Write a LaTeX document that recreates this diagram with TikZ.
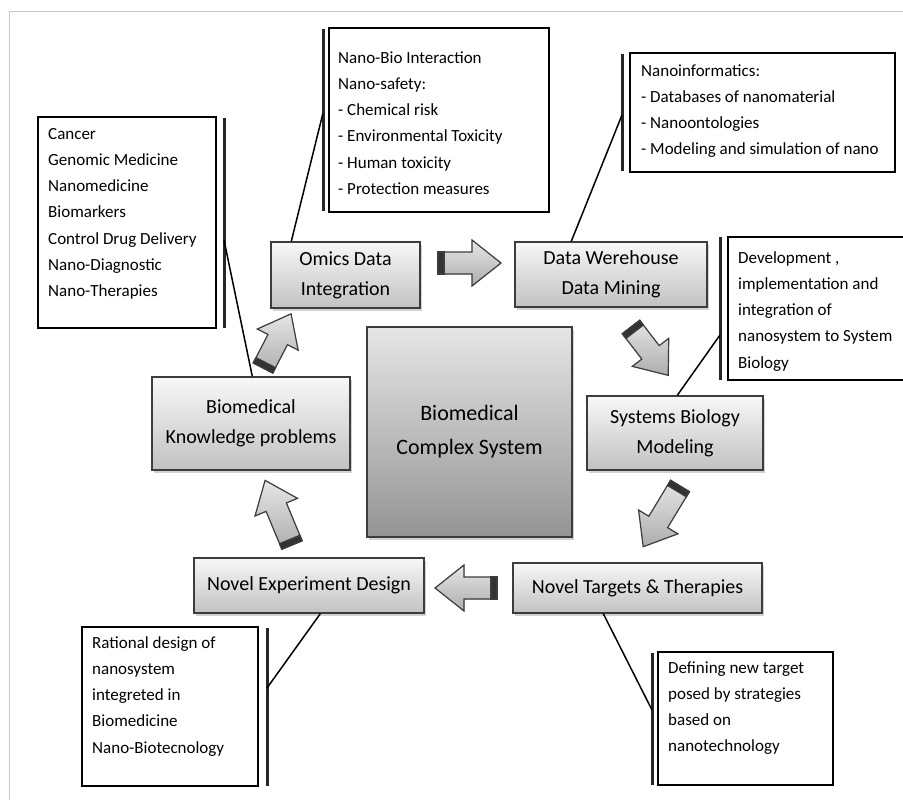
\documentclass[tikz,border=0pt]{standalone}
\usepackage{fontspec}
\setmainfont{Carlito}
\usetikzlibrary{shadows,calc}
\definecolor{boxline}{HTML}{3C3C3C}
\definecolor{framecol}{HTML}{C8C8C8}
\tikzset{
  proc/.style={draw=boxline, line width=1.4pt, top color=black!3, bottom color=black!24,
    inner sep=0pt, align=center, font=\fontsize{20}{30}\selectfont, text=black,
    drop shadow={shadow xshift=2pt, shadow yshift=-2.5pt, opacity=0.35}},
  bigbox/.style={proc, top color=black!10, bottom color=black!42, font=\fontsize{22}{34}\selectfont},
  callout/.style={draw=black, line width=2.2pt, fill=white, inner sep=0pt},
  ctext/.style={anchor=north west, inner sep=0pt, align=left, font=\fontsize{17}{26.2}\selectfont, text=black},
  accent/.style={draw=black!85, line width=3pt},
  conn/.style={draw=black, line width=1.5pt},
  arrbody/.style={draw=boxline, line width=1.2pt, top color=black!10, bottom color=black!32},
  arrband/.style={fill=black!80, draw=boxline, line width=1.2pt},
}
\newcommand\blockarrow[3]{%
  \begin{scope}[shift={#1}, rotate=#2]
    \filldraw[arrbody] (0,-11) -- (#3-29,-11) -- (#3-29,-23) -- (#3,0) -- (#3-29,23) -- (#3-29,11) -- (0,11) -- cycle;
    \filldraw[arrband] (0,-11) rectangle (6,11);
  \end{scope}}
\begin{document}
\begin{tikzpicture}[x=1pt,y=-1pt]
  \fill[white] (0,0) rectangle (903,800);
  \useasboundingbox (0,0) rectangle (903,800);
  \clip (0,0) rectangle (903,800);
  \draw[framecol, line width=1pt] (9,800) -- (9,12) -- (903,12);

  % callout boxes
  \node[callout, minimum width=178, minimum height=211] (cA) at (127,222.5) {};
  \node[callout, minimum width=220, minimum height=184] (cB) at (439,120) {};
  \node[callout, minimum width=265, minimum height=119] (cC) at (762.5,112.5) {};
  \node[callout, minimum width=184, minimum height=143] (cD) at (820,308.5) {};
  \node[callout, minimum width=175, minimum height=133] (cE) at (745.5,718.5) {};
  \node[callout, minimum width=176, minimum height=159] (cF) at (170,706.5) {};

  \node[ctext] (tA) at (48,120.7) {\strut Cancer\\Genomic Medicine\\Nanomedicine\\Biomarkers\\Control Drug Delivery\\Nano-Diagnostic\\Nano-Therapies};
  \node[ctext] (tB) at (338,44.7) {\strut Nano-Bio Interaction\\Nano-safety:\\- Chemical risk\\- Environmental Toxicity\\- Human toxicity\\- Protection measures};
  \node[ctext] (tC) at (641,57.7) {\strut Nanoinformatics:\\- Databases of nanomaterial\\- Nanoontologies\\- Modeling and simulation of nano};
  \node[ctext] (tD) at (738,244.7) {\strut Development ,\\implementation and\\integration of\\nanosystem to System\\Biology};
  \node[ctext] (tE) at (668,654.7) {\strut Defining new target\\posed by strategies\\based on\\nanotechnology};
  \node[ctext] (tF) at (92,629.7) {\strut Rational design of\\nanosystem\\integreted in\\Biomedicine\\Nano-Biotecnology};

  % accent bars
  \coordinate (bA1) at (224,118); \coordinate (bA2) at (224,328);
  \coordinate (bB1) at (323,29);  \coordinate (bB2) at (323,211);
  \coordinate (bC1) at (622,54);  \coordinate (bC2) at (622,171);
  \coordinate (bD1) at (720,237); \coordinate (bD2) at (720,380);
  \coordinate (bE1) at (652,653); \coordinate (bE2) at (652,785);
  \coordinate (bF1) at (267,628); \coordinate (bF2) at (267,786);
  \foreach \b in {A,B,C,D,E,F} \draw[accent] (b\b1) -- (b\b2);

  % process boxes
  \node[bigbox, minimum width=205, minimum height=210] (big) at (469.5,432) {Biomedical\\Complex System};
  \node[proc, minimum width=149, minimum height=66] (omics) at (345.5,275) {Omics Data\\Integration};
  \node[proc, minimum width=192, minimum height=65] (data) at (611,274.5) {Data Werehouse\\Data Mining};
  \node[proc, minimum width=176, minimum height=74] (sys) at (675,433) {Systems Biology\\Modeling};
  \node[proc, minimum width=249, minimum height=50] (targ) at (637.5,588) {Novel Targets \& Therapies};
  \node[proc, minimum width=230, minimum height=55] (nexp) at (309,585.5) {Novel Experiment Design};
  \node[proc, minimum width=198, minimum height=93] (bkp) at (251,423.5) {Biomedical\\Knowledge problems};

  % connectors from boxes to callout accent bars
  \coordinate (jA) at (224,240);
  \coordinate (jB) at (323,113);
  \coordinate (jC) at (622,115);
  \coordinate (jD) at (720,335);
  \coordinate (jE) at (652,710);
  \coordinate (jF) at (267,688);
  \draw[conn] (jA) -- ([xshift=101pt]bkp.north west);
  \draw[conn] ([xshift=21pt]omics.north west) -- (jB);
  \draw[conn] ([xshift=57pt]data.north west) -- (jC);
  \draw[conn] ([xshift=91pt]sys.north west) -- (jD);
  \draw[conn] ([xshift=91pt]targ.south west) -- (jE);
  \draw[conn] ([xshift=127pt]nexp.south west) -- (jF);

  % block arrows
  \blockarrow{(438,263)}{0}{63}
  \blockarrow{(631,327)}{-52.4}{61}
  \blockarrow{(680,486)}{-121.2}{71}
  \blockarrow{(497,588)}{180}{62}
  \blockarrow{(292,545)}{112.6}{70}
  \blockarrow{(263,368)}{62.6}{61}
\end{tikzpicture}
\end{document}
